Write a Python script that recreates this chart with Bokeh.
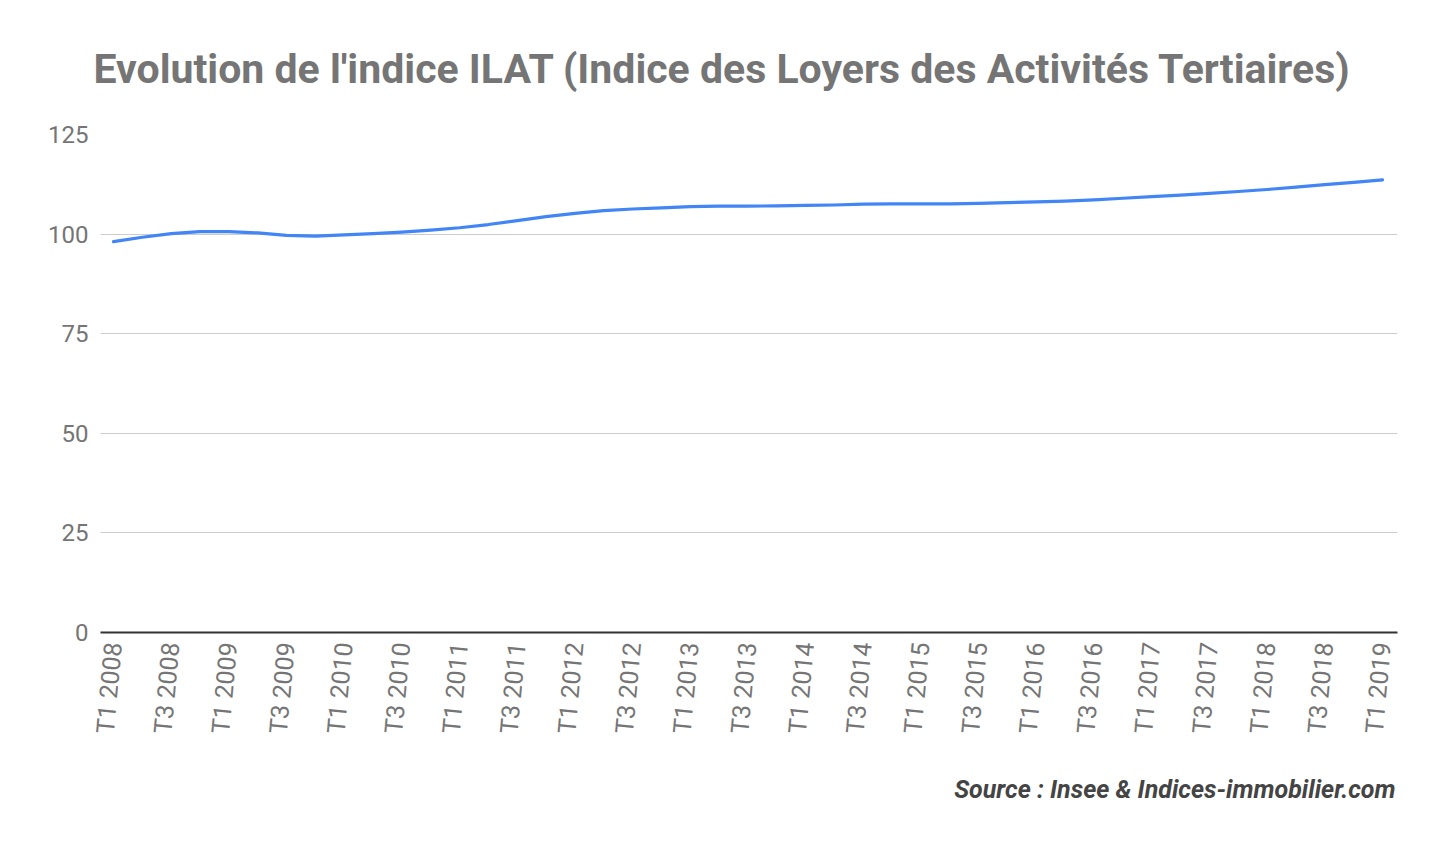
import math
from bokeh.plotting import figure
from bokeh.models import FixedTicker, Range1d, Title
from bokeh.embed import file_html
from bokeh.resources import INLINE

# ---- data ----
quarters = []
for yr in range(2008, 2020):
    for q in (1, 2, 3, 4):
        if yr == 2019 and q > 1:
            break
        quarters.append(f"T{q} {yr}")

ilat = [98.1, 99.2, 100.1, 100.6,
        100.6, 100.3, 99.7, 99.5,
        99.8, 100.1, 100.5, 101.0,
        101.6, 102.4, 103.4, 104.4,
        105.2, 105.9, 106.3, 106.6,
        106.9, 107.0, 107.0, 107.1,
        107.2, 107.3, 107.5, 107.6,
        107.6, 107.6, 107.7, 107.9,
        108.1, 108.3, 108.6, 109.0,
        109.4, 109.8, 110.2, 110.7,
        111.2, 111.8, 112.4, 113.0,
        113.6]

y_ticks = [0, 25, 50, 75, 100, 125]
title_text = "Evolution de l'indice ILAT (Indice des Loyers des Activités Tertiaires)"
source_text = "Source : Insee & Indices-immobilier.com"

# ---- layout (pixels) ----
W, H = 1440, 847
frame_left, frame_right = 100, 1397
frame_top, frame_bottom = 134, 632
px_per_q = (1382 - 113) / 44.0
x_start = -(113 - 100) / px_per_q
x_end = 44 + (1397 - 1382) / px_per_q

p = figure(width=W, height=H, output_backend="svg", toolbar_location=None,
           x_range=Range1d(x_start, x_end), y_range=Range1d(0, 125),
           min_border_left=frame_left, min_border_right=W - frame_right,
           min_border_top=frame_top, min_border_bottom=H - frame_bottom)
p.outline_line_color = None
p.background_fill_color = "white"
p.border_fill_color = "white"

xs = list(range(len(quarters)))
p.line(xs, ilat, line_color="#4285F4", line_width=3.2, line_join="round", line_cap="round")

# x axis
even = [i for i in xs if i % 2 == 0]
p.xaxis.ticker = FixedTicker(ticks=even)
p.xaxis.major_label_overrides = {i: quarters[i] for i in even}
p.xaxis.major_label_orientation = 1.48
p.xaxis.major_label_text_font = "Roboto"
p.xaxis.major_label_text_font_size = "25px"
p.xaxis.major_label_text_color = "#757575"
p.xaxis.major_label_standoff = 4
p.xaxis.major_tick_line_color = None
p.xaxis.minor_tick_line_color = None
p.xaxis.axis_line_color = "#333333"
p.xaxis.axis_line_width = 2

# y axis
p.yaxis.ticker = FixedTicker(ticks=y_ticks)
p.yaxis.major_label_text_font = "Roboto"
p.yaxis.major_label_text_font_size = "24px"
p.yaxis.major_label_text_color = "#757575"
p.yaxis.major_label_standoff = 6
p.yaxis.major_tick_line_color = None
p.yaxis.minor_tick_line_color = None
p.yaxis.axis_line_color = None

p.xgrid.grid_line_color = None
p.ygrid.grid_line_color = "#cccccc"
p.ygrid.grid_line_width = 1

# title
p.title.text = title_text
p.title.align = "left"
p.title.offset = -7
p.title.standoff = 83
p.title.text_font = "Roboto"
p.title.text_font_style = "bold"
p.title.text_font_size = "41px"
p.title.text_color = "#757575"

# source
p.add_layout(Title(text=source_text, align="right", offset=2, standoff=67,
                   text_font="Roboto", text_font_style="bold italic",
                   text_font_size="25px", text_color="#444444"), "below")

open("out.html", "w").write(file_html(p, INLINE))
